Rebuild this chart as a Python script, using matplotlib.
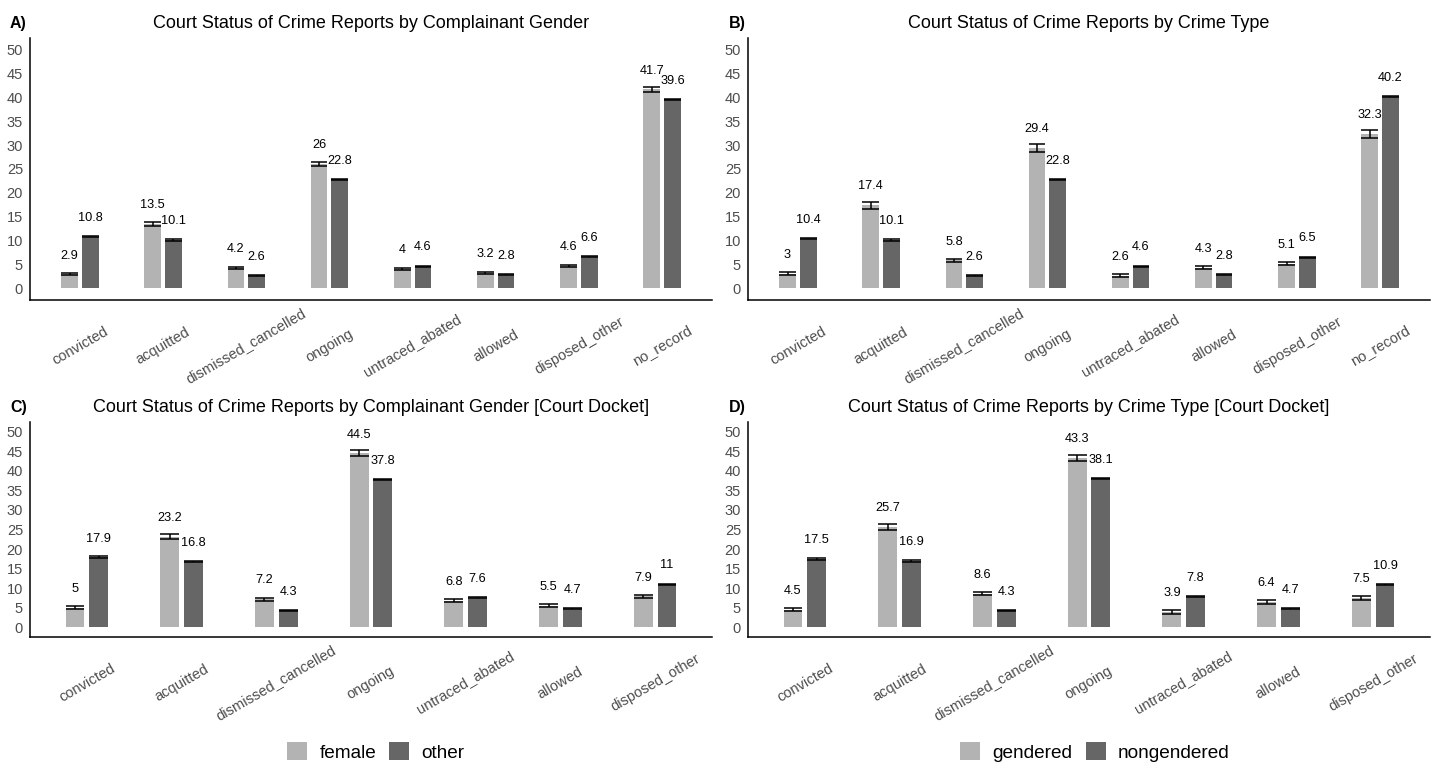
import numpy as np
import matplotlib
matplotlib.use("Agg")
import matplotlib.pyplot as plt
from matplotlib.patches import Patch

plt.rcParams['font.family'] = ['Liberation Sans', 'DejaVu Sans']

# categories
status_all = ["convicted", "acquitted", "dismissed_cancelled", "ongoing",
              "untraced_abated", "allowed", "disposed_other", "no_record"]
status_docket = status_all[:7]

# A) by complainant gender
a_female = [2.9, 13.5, 4.2, 26, 4, 3.2, 4.6, 41.7]
a_female_err = [0.25, 0.4, 0.25, 0.45, 0.25, 0.25, 0.25, 0.5]
a_other = [10.8, 10.1, 2.6, 22.8, 4.6, 2.8, 6.6, 39.6]
a_other_err = [0.12, 0.12, 0.1, 0.15, 0.1, 0.1, 0.12, 0.15]

# B) by crime type
b_gendered = [3, 17.4, 5.8, 29.4, 2.6, 4.3, 5.1, 32.3]
b_gendered_err = [0.35, 0.7, 0.4, 0.8, 0.3, 0.35, 0.35, 0.8]
b_nongendered = [10.4, 10.1, 2.6, 22.8, 4.6, 2.8, 6.5, 40.2]
b_nongendered_err = [0.12, 0.12, 0.1, 0.15, 0.1, 0.1, 0.12, 0.15]

# C) by complainant gender, court docket
c_female = [5, 23.2, 7.2, 44.5, 6.8, 5.5, 7.9]
c_female_err = [0.35, 0.65, 0.4, 0.75, 0.4, 0.4, 0.45]
c_other = [17.9, 16.8, 4.3, 37.8, 7.6, 4.7, 11]
c_other_err = [0.2, 0.18, 0.12, 0.2, 0.15, 0.12, 0.15]

# D) by crime type, court docket
d_gendered = [4.5, 25.7, 8.6, 43.3, 3.9, 6.4, 7.5]
d_gendered_err = [0.45, 0.7, 0.45, 0.75, 0.4, 0.45, 0.45]
d_nongendered = [17.5, 16.9, 4.3, 38.1, 7.8, 4.7, 10.9]
d_nongendered_err = [0.18, 0.18, 0.12, 0.2, 0.15, 0.12, 0.15]

LIGHT = "#b3b3b3"
DARK = "#666666"
TICK_COLOR = "#4d4d4d"

W, H = 1437, 765
fig = plt.figure(figsize=(W / 100, H / 100), dpi=100)


def px_axes(left, top, right, bottom):
    return fig.add_axes([left / W, 1 - bottom / H, (right - left) / W, (bottom - top) / H])


def draw_panel(ax, cats, v1, e1, v2, e2, title, letter, cx):
    n = len(cats)
    x = np.arange(n)
    bw = 0.2
    off = 0.125
    for vals, errs, col, sgn in ((v1, e1, LIGHT, -1), (v2, e2, DARK, 1)):
        xs = x + sgn * off
        ax.bar(xs, vals, width=bw, color=col, zorder=2)
        vals = np.asarray(vals, float)
        errs = np.asarray(errs, float)
        ax.vlines(xs, vals - errs, vals + errs, color="black", lw=1.1, zorder=3)
        ax.hlines(vals - errs, xs - bw / 2, xs + bw / 2, color="black", lw=1.1, zorder=3)
        ax.hlines(vals + errs, xs - bw / 2, xs + bw / 2, color="black", lw=1.1, zorder=3)
        for xi, v in zip(xs, vals):
            ax.annotate(f"{v:g}", (xi, v), xytext=(0, 13.5), textcoords="offset points",
                        ha="center", va="center", fontsize=9.2, color="black")
    ax.set_xlim(-0.6, n - 0.4)
    ax.set_ylim(-2.5, 52.5)
    ax.set_yticks(np.arange(0, 51, 5))
    ax.set_xticks(x)
    ax.set_xticklabels(cats, rotation=30, ha="center", va="center",
                       rotation_mode="anchor")
    ax.tick_params(axis="x", length=0, pad=33, labelsize=10.5, labelcolor=TICK_COLOR)
    ax.tick_params(axis="y", length=0, pad=5, labelsize=10.5, labelcolor=TICK_COLOR)
    for s in ("top", "right"):
        ax.spines[s].set_visible(False)
    for s in ("left", "bottom"):
        ax.spines[s].set_linewidth(1.1)
        ax.spines[s].set_color("black")
    ax.set_facecolor("white")
    return ax


ax_a = px_axes(30, 38, 712, 300)
ax_b = px_axes(748, 38, 1430, 300)
ax_c = px_axes(30, 422, 712, 637)
ax_d = px_axes(748, 422, 1430, 637)

draw_panel(ax_a, status_all, a_female, a_female_err, a_other, a_other_err,
           "Court Status of Crime Reports by Complainant Gender", "A)", 371)
draw_panel(ax_b, status_all, b_gendered, b_gendered_err, b_nongendered, b_nongendered_err,
           "Court Status of Crime Reports by Crime Type", "B)", 1089)
draw_panel(ax_c, status_docket, c_female, c_female_err, c_other, c_other_err,
           "Court Status of Crime Reports by Complainant Gender [Court Docket]", "C)", 371)
draw_panel(ax_d, status_docket, d_gendered, d_gendered_err, d_nongendered, d_nongendered_err,
           "Court Status of Crime Reports by Crime Type [Court Docket]", "D)", 1089)

# titles and panel letters
titles = [
    ("A)", 10, 28, "Court Status of Crime Reports by Complainant Gender", 371),
    ("B)", 729, 28, "Court Status of Crime Reports by Crime Type", 1089),
    ("C)", 10, 412, "Court Status of Crime Reports by Complainant Gender [Court Docket]", 371),
    ("D)", 729, 412, "Court Status of Crime Reports by Crime Type [Court Docket]", 1089),
]
for letter, lx, by, text, cx in titles:
    fig.text(lx / W, 1 - by / H, letter, fontsize=11.5, fontweight="bold",
             ha="left", va="baseline")
    fig.text(cx / W, 1 - by / H, text, fontsize=13, ha="center", va="baseline")

# legends
leg_kw = dict(loc="center", ncol=2, frameon=False, fontsize=13.7,
              handlelength=1.05, handleheight=1.05, handletextpad=0.63,
              columnspacing=0.7, borderaxespad=0)
fig.legend(handles=[Patch(facecolor=LIGHT, label="female"),
                    Patch(facecolor=DARK, label="other")],
           bbox_to_anchor=(376 / W, 1 - 752 / H), **leg_kw)
fig.legend(handles=[Patch(facecolor=LIGHT, label="gendered"),
                    Patch(facecolor=DARK, label="nongendered")],
           bbox_to_anchor=(1095 / W, 1 - 752 / H), **leg_kw)

fig.savefig("out.png", dpi=100, facecolor="white")
